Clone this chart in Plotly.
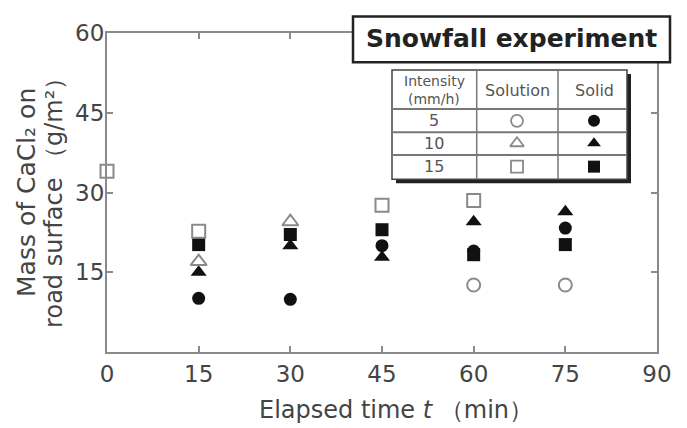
import plotly.graph_objects as go

# ---------------- data ----------------
times = [0, 15, 30, 45, 60, 75]
solution_5 = [None, None, None, None, 12.6, 12.6]
solution_10 = [None, 17.0, 24.5, None, None, None]
solution_15 = [34.0, 22.7, None, 27.6, 28.5, None]
solid_5 = [None, 10.1, 9.9, 20.0, 19.0, 23.3]
solid_10 = [None, 15.0, 20.0, 17.8, 24.5, 26.4]
solid_15 = [None, 20.2, 22.1, 23.0, 18.3, 20.2]

x_ticks = [0, 15, 30, 45, 60, 75, 90]
y_ticks = [15, 30, 45, 60]
intensities = ["5", "10", "15"]

# ---------------- layout geometry ----------------
# the page body has an 8px margin, so the figure is drawn offset by (8, 8)
OFF = 8
W, H = 687 - OFF, 428 - OFF
PLOT_L, PLOT_T, PW, PH = 107, 25, 550, 327     # in window pixels
L = PLOT_L - OFF
T = PLOT_T - OFF
R = W - L - PW
B = H - T - PH


def px_x(px):
    return (px - PLOT_L) / PW


def px_y(py):
    return (PLOT_T + PH - py) / PH


OPEN = "#8a8a8a"
FILL = "#111111"
FONT = "DejaVu Sans"

fig = go.Figure()

open_style = dict(color="white", line=dict(color=OPEN, width=2))
solid_style = dict(color=FILL, line=dict(color=FILL, width=0))

series = [
    (solid_5, "circle", 13, solid_style),
    (solid_10, "triangle-up", 14, solid_style),
    (solid_15, "square", 13, solid_style),
    (solution_5, "circle", 13, open_style),
    (solution_10, "triangle-up", 14, open_style),
    (solution_15, "square", 13, open_style),
]
for ys, sym, size, st in series:
    fig.add_trace(go.Scatter(
        x=times, y=ys, mode="markers", cliponaxis=False, showlegend=False,
        marker=dict(symbol=sym, size=size, **st)))

# legend-table markers on a hidden overlay axis (range 0..1 == plot area)
row_y = [115, 138, 162]
leg_syms = ["circle", "triangle-up", "square"]
for i in range(3):
    fig.add_trace(go.Scatter(
        x=[px_x(517)], y=[px_y(row_y[i])], xaxis="x2", yaxis="y2",
        mode="markers", cliponaxis=False, showlegend=False,
        marker=dict(symbol=leg_syms[i], size=12, color="white",
                    line=dict(color=OPEN, width=1.8))))
    fig.add_trace(go.Scatter(
        x=[px_x(594)], y=[px_y(row_y[i])], xaxis="x2", yaxis="y2",
        mode="markers", cliponaxis=False, showlegend=False,
        marker=dict(symbol=leg_syms[i], size=12, color=FILL)))

axis_common = dict(
    showline=True, linecolor="#8a8a8a", linewidth=2, mirror="ticks",
    ticks="inside", ticklen=6, tickwidth=1.5, tickcolor="#8a8a8a",
    showgrid=False, zeroline=False,
    tickfont=dict(family=FONT, size=23, color="#444"),
)

fig.update_layout(
    width=W, height=H,
    margin=dict(l=L, r=R, t=T, b=B),
    paper_bgcolor="white", plot_bgcolor="white",
    xaxis=dict(range=[0, 90], tickvals=x_ticks, **axis_common),
    yaxis=dict(range=[0, 60], tickvals=y_ticks, ticklabelstandoff=-4, **axis_common),
    xaxis2=dict(range=[0, 1], overlaying="x", visible=False, domain=[0, 1]),
    yaxis2=dict(range=[0, 1], overlaying="y", visible=False, domain=[0, 1]),
)

shapes = []
# title box (above, so it hides the top frame line)
shapes.append(dict(type="rect", xref="paper", yref="paper",
                   x0=px_x(353), x1=px_x(670), y0=px_y(55), y1=px_y(8),
                   fillcolor="white", line=dict(color="#222", width=2.5), layer="above"))
# table shadow and body (below traces, so the legend markers show)
shapes.append(dict(type="rect", xref="paper", yref="paper",
                   x0=px_x(396), x1=px_x(631), y0=px_y(179), y1=px_y(67),
                   fillcolor="#222", line=dict(width=0), layer="below"))
shapes.append(dict(type="rect", xref="paper", yref="paper",
                   x0=px_x(392), x1=px_x(627), y0=px_y(175), y1=px_y(63),
                   fillcolor="white", line=dict(color="#444", width=1.5), layer="below"))
for xv in [476.7, 558]:
    shapes.append(dict(type="line", xref="paper", yref="paper",
                       x0=px_x(xv), x1=px_x(xv), y0=px_y(175), y1=px_y(63),
                       line=dict(color="#777", width=1.5), layer="below"))
for yv in [103, 126.7, 150]:
    shapes.append(dict(type="line", xref="paper", yref="paper",
                       x0=px_x(392), x1=px_x(627), y0=px_y(yv), y1=px_y(yv),
                       line=dict(color="#777", width=2), layer="below"))
fig.update_layout(shapes=shapes)

ann = []


def text(t, x, y, size, color="#555", bold=False, angle=0):
    ann.append(dict(text=f"<b>{t}</b>" if bold else t, xref="paper", yref="paper",
                    x=px_x(x), y=px_y(y), xanchor="center", yanchor="middle",
                    showarrow=False, textangle=angle, borderpad=0,
                    font=dict(family=FONT, size=size, color=color)))


text("Snowfall experiment", 511, 31, 25, color="#222", bold=True)
text("Intensity", 434, 74, 14)
text("(mm/h)", 434, 93, 14)
text("Solution", 517, 84, 16)
text("Solid", 594, 84, 16)
for i, lab in enumerate(intensities):
    text(lab, 434, row_y[i], 16)

text("Mass of CaCl₂ on", 27, 189, 25, color="#444", angle=-90)
text("road surface （g/m²）", 54, 193, 24, color="#444", angle=-90)
text("Elapsed time <i>t</i> （min）", 396, 411, 24, color="#444")

fig.update_layout(annotations=ann)

fig.write_html("out.html")
